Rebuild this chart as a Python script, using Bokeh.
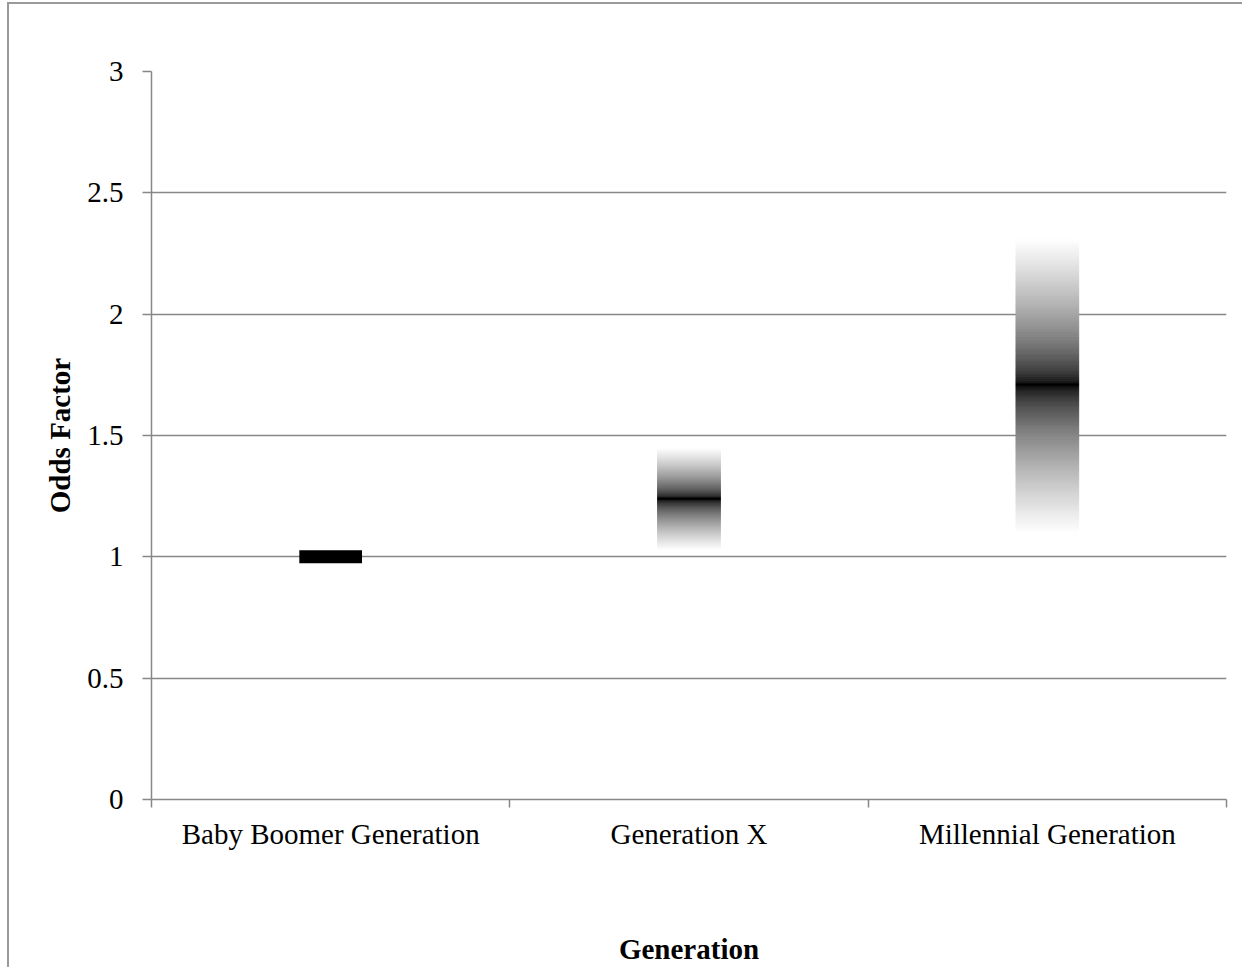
import numpy as np
from bokeh.plotting import figure
from bokeh.models import FixedTicker, Range1d
from bokeh.embed import file_html
from bokeh.resources import INLINE

# ---- data ----
generations = ["Baby Boomer Generation", "Generation X", "Millennial Generation"]
odds_factor = [1.00, 1.24, 1.71]
ci_low = [1.00, 1.03, 1.10]
ci_high = [1.00, 1.45, 2.31]
y_ticks = [0, 0.5, 1, 1.5, 2, 2.5, 3]

# ---- style ----
FONT = "Liberation Serif"
GRID = "#878787"
BAR_W = 0.175
N_SLICES = 160
FRAME_LINE = "#9a9a9a"

p = figure(width=1242, height=967, output_backend="svg", toolbar_location=None,
           x_range=Range1d(0, 3), y_range=Range1d(0, 3),
           min_border_left=151, min_border_top=71, min_border_right=16,
           min_border_bottom=166)
p.border_fill_color = None
p.styles = {
    "background": (f"linear-gradient({FRAME_LINE},{FRAME_LINE}) 7px 2px / 2px 100% no-repeat, "
                   f"linear-gradient({FRAME_LINE},{FRAME_LINE}) 7px 2px / 100% 2px no-repeat, white")
}
p.outline_line_color = None
p.background_fill_color = "white"

# gradient bars (confidence ranges) built from the data
for i, (m, lo, hi) in enumerate(zip(odds_factor, ci_low, ci_high)):
    xc = i + 0.5
    if hi > lo:
        edges = np.linspace(lo, hi, N_SLICES + 1)
        bots, tops = edges[:-1], edges[1:]
        cents = (bots + tops) / 2
        cols = []
        for c in cents:
            span = (hi - m) if c >= m else (m - lo)
            t = min(abs(c - m) / span, 1.0)
            g = int(round(255 * t ** 0.6))
            cols.append("#%02x%02x%02x" % (g, g, g))
        p.quad(left=[xc - BAR_W / 2] * N_SLICES, right=[xc + BAR_W / 2] * N_SLICES,
               bottom=list(bots), top=list(tops), fill_color=cols, line_color=cols,
               line_width=1)
        # darkest line at the point estimate
        p.rect(x=[xc], y=[m], width=BAR_W, height=2, height_units="screen",
               fill_color="black", line_color=None)
    else:
        p.rect(x=[xc], y=[m], width=BAR_W, height=13, height_units="screen",
               fill_color="black", line_color=None)

# ---- x axis ----
p.xgrid.grid_line_color = None
xa = p.xaxis[0]
xa.ticker = FixedTicker(ticks=[i + 0.5 for i in range(len(generations))],
                        minor_ticks=list(range(len(generations) + 1)))
xa.major_label_overrides = {i + 0.5: g for i, g in enumerate(generations)}
xa.major_tick_out = 0
xa.major_tick_in = 0
xa.minor_tick_out = 8
xa.minor_tick_in = 0
xa.minor_tick_line_color = GRID
xa.minor_tick_line_width = 1.5
xa.axis_line_color = GRID
xa.axis_line_width = 1.5
xa.major_label_standoff = 10
xa.major_label_text_font = FONT
xa.major_label_text_font_size = "29px"
xa.major_label_text_color = "black"
xa.axis_label = "Generation"
xa.axis_label_text_font = FONT
xa.axis_label_text_font_style = "bold"
xa.axis_label_text_font_size = "29px"
xa.axis_label_text_color = "black"
xa.axis_label_standoff = 80

# ---- y axis ----
ya = p.yaxis[0]
ya.ticker = FixedTicker(ticks=y_ticks, minor_ticks=[])
ya.major_label_overrides = {t: f"{t:g}" for t in y_ticks}
ya.major_tick_out = 9
ya.major_tick_in = 0
ya.major_tick_line_color = GRID
ya.major_tick_line_width = 1.5
ya.axis_line_color = GRID
ya.axis_line_width = 1.5
ya.major_label_standoff = 19
ya.major_label_text_font = FONT
ya.major_label_text_font_size = "29px"
ya.major_label_text_color = "black"
ya.axis_label = "Odds Factor"
ya.axis_label_text_font = FONT
ya.axis_label_text_font_style = "bold"
ya.axis_label_text_font_size = "29px"
ya.axis_label_text_color = "black"
ya.axis_label_standoff = 8

p.ygrid.ticker = FixedTicker(ticks=y_ticks)
p.ygrid.grid_line_color = GRID
p.ygrid.grid_line_width = 1.5

open("out.html", "w").write(file_html(p, INLINE))
